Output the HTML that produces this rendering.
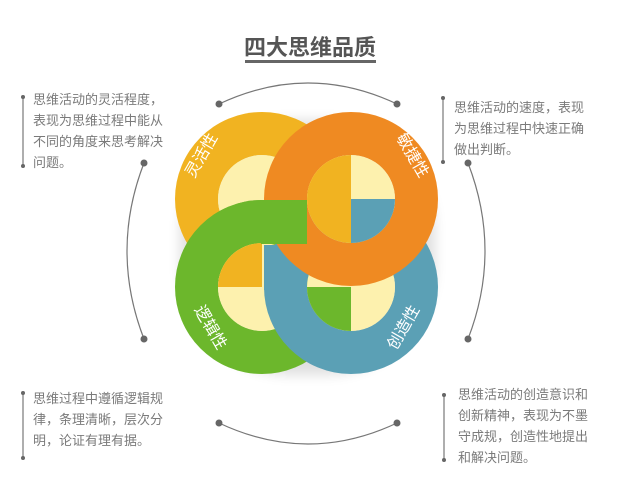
<!DOCTYPE html>
<html><head><meta charset="utf-8"><style>
html,body{margin:0;padding:0;background:#fff;}
body{width:631px;height:481px;overflow:hidden;position:relative;font-family:"Liberation Sans","Noto Sans CJK SC",sans-serif;}
.t{position:absolute;font-size:13px;line-height:21px;color:#7a7a7a;}
</style></head><body>
<svg width="631" height="481" style="position:absolute;left:0;top:0" font-family="Liberation Sans, Noto Sans CJK SC, sans-serif">
<defs>
<mask id="ringY"><rect width="631" height="481" fill="#000"/><circle cx="262" cy="199" r="87" fill="#fff"/><circle cx="262" cy="199" r="44" fill="#000"/></mask>
<mask id="ringG"><rect width="631" height="481" fill="#000"/><circle cx="262" cy="287" r="87" fill="#fff"/><circle cx="262" cy="287" r="44" fill="#000"/></mask>
<mask id="ringB"><rect width="631" height="481" fill="#000"/><circle cx="351" cy="287" r="87" fill="#fff"/><circle cx="351" cy="287" r="44" fill="#000"/></mask>
<mask id="ringO"><rect width="631" height="481" fill="#000"/><circle cx="351" cy="199" r="87" fill="#fff"/><circle cx="351" cy="199" r="44" fill="#000"/></mask>
<clipPath id="hY"><circle cx="262" cy="199" r="44"/></clipPath>
<clipPath id="hG"><circle cx="262" cy="287" r="44"/></clipPath>
<clipPath id="hB"><circle cx="351" cy="287" r="44"/></clipPath>
<clipPath id="hO"><circle cx="351" cy="199" r="44"/></clipPath>
<clipPath id="cG"><rect x="170" y="200" width="92" height="44"/></clipPath>
<filter id="sh" x="-20%" y="-20%" width="140%" height="140%"><feGaussianBlur stdDeviation="6"/></filter>
</defs>
<text x="310" y="55" font-size="22" font-weight="bold" fill="#555" text-anchor="middle">四大思维品质</text>
<rect x="245" y="60" width="131" height="3" fill="#666"/>
<g fill="none" stroke="#777" stroke-width="1.2">
<path d="M219 104 Q308 62 397 104"/>
<path d="M219 423 Q308 465 397 423"/>
<path d="M144 163 Q110 251 144 339"/>
<path d="M468 163 Q502 251 468 339"/>
</g>
<g fill="#666">
<circle cx="219" cy="104" r="3.5"/><circle cx="397" cy="104" r="3.5"/>
<circle cx="219" cy="423" r="3.5"/><circle cx="397" cy="423" r="3.5"/>
<circle cx="144" cy="163" r="3.5"/><circle cx="144" cy="339" r="3.5"/>
<circle cx="468" cy="163" r="3.5"/><circle cx="468" cy="339" r="3.5"/>
</g>
<g stroke="#777" stroke-width="1.2"><line x1="23" y1="97" x2="23" y2="166"/><line x1="443" y1="98" x2="443" y2="162"/><line x1="23" y1="393" x2="23" y2="458"/><line x1="444" y1="395" x2="444" y2="460"/></g>
<g fill="#666"><circle cx="23" cy="97" r="2"/><circle cx="23" cy="166" r="2"/><circle cx="443" cy="98" r="2"/><circle cx="443" cy="162" r="2"/><circle cx="23" cy="393" r="2"/><circle cx="23" cy="458" r="2"/><circle cx="444" cy="395" r="2"/><circle cx="444" cy="460" r="2"/></g>
<rect x="180" y="120" width="255" height="255" rx="110" fill="#000" opacity="0.12" filter="url(#sh)"/>
<!-- yellow -->
<rect width="631" height="481" fill="#f1b321" mask="url(#ringY)"/>
<circle cx="262" cy="199" r="44" fill="#fdf1ae"/>
<!-- green -->
<rect width="631" height="481" fill="#6cb72c" mask="url(#ringG)"/>
<g clip-path="url(#hG)"><rect x="210" y="240" width="100" height="100" fill="#fdf1ae"/><rect x="210" y="240" width="52" height="47" fill="#f1b321"/></g>
<!-- blue -->
<rect width="631" height="481" fill="#5ba0b5" mask="url(#ringB)"/>
<rect x="264" y="245" width="43" height="45" fill="#5ba0b5"/>
<g clip-path="url(#hB)"><rect x="300" y="240" width="100" height="100" fill="#fdf1ae"/><rect x="300" y="287" width="51" height="50" fill="#6cb72c"/></g>
<!-- orange -->
<rect width="631" height="481" fill="#ef8a22" mask="url(#ringO)"/>
<g clip-path="url(#hO)"><rect x="300" y="150" width="100" height="100" fill="#fdf1ae"/><rect x="300" y="150" width="51" height="100" fill="#f1b321"/><rect x="351" y="199" width="50" height="50" fill="#5ba0b5"/></g>
<!-- green over orange -->
<g clip-path="url(#cG)"><rect width="631" height="481" fill="#6cb72c" mask="url(#ringG)"/></g>
<rect x="261" y="200" width="46" height="44" fill="#6cb72c"/>
<g fill="#fff" font-size="16" text-anchor="middle">
<text transform="translate(206,158) rotate(-60)">灵活性</text>
<text transform="translate(408,158) rotate(60)">敏捷性</text>
<text transform="translate(206,330) rotate(60)">逻辑性</text>
<text transform="translate(408,330) rotate(-60)">创造性</text>
</g>
</svg>
<div class="t" style="left:33px;top:89px;width:140px">思维活动的灵活程度，<br>表现为思维过程中能从<br>不同的角度来思考解决<br>问题。</div>
<div class="t" style="left:454px;top:97px;width:150px">思维活动的速度，表现<br>为思维过程中快速正确<br>做出判断。</div>
<div class="t" style="left:33px;top:388px;width:150px">思维过程中遵循逻辑规<br>律，条理清晰，层次分<br>明，论证有理有据。</div>
<div class="t" style="left:458px;top:384px;width:150px">思维活动的创造意识和<br>创新精神，表现为不墨<br>守成规，创造性地提出<br>和解决问题。</div>
</body></html>
